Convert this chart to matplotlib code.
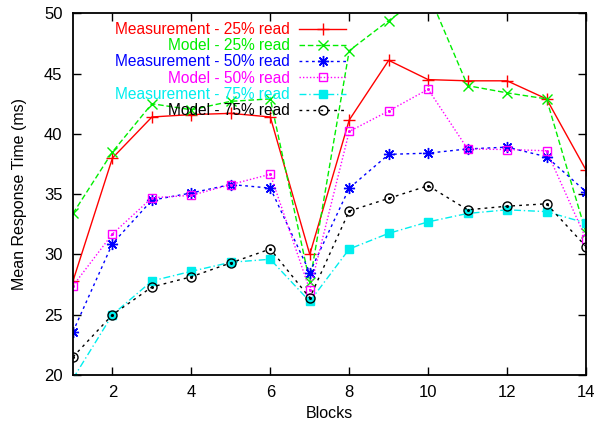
import matplotlib
matplotlib.use("Agg")
import matplotlib.pyplot as plt

plt.rcParams['font.family'] = ['Liberation Sans', 'DejaVu Sans']

blocks = list(range(1, 15))
meas_25 = [27.8, 38.0, 41.4, 41.6, 41.7, 41.4, 30.0, 41.15, 46.1, 44.5, 44.4, 44.4, 42.9, 37.0]
model_25 = [33.4, 38.5, 42.5, 42.0, 42.7, 42.9, 27.7, 46.9, 49.4, 51.7, 44.0, 43.4, 42.9, 31.8]
meas_50 = [23.6, 30.9, 34.5, 35.1, 35.8, 35.5, 28.5, 35.5, 38.3, 38.4, 38.75, 38.9, 38.1, 35.2]
model_50 = [27.4, 31.7, 34.7, 34.9, 35.8, 36.65, 27.05, 40.2, 41.9, 43.7, 38.75, 38.7, 38.6, 31.3]
meas_75 = [19.7, 25.0, 27.8, 28.6, 29.35, 29.6, 26.1, 30.45, 31.75, 32.7, 33.4, 33.7, 33.55, 32.6]
model_75 = [21.5, 25.0, 27.3, 28.15, 29.3, 30.45, 26.4, 33.6, 34.65, 35.7, 33.7, 34.0, 34.2, 30.65]

labels = ["Measurement - 25% read", "Model - 25% read", "Measurement - 50% read",
          "Model - 50% read", "Measurement - 75% read", "Model - 75% read"]
series = [meas_25, model_25, meas_50, model_50, meas_75, model_75]
colors = ["#ff0000", "#00ee00", "#0000ff", "#ff00ff", "#00eeee", "#000000"]
styles = ["-", (0, (4, 2)), (0, (2, 2.5)), (0, (1, 1.5)), (0, (5, 2, 1, 2)), (0, (2, 3))]
markers = ["+", "x", (8, 2, 0), "s", "s", "o"]
msizes = [8, 7, 8, 6, 6, 6.5]
mfcs = [None, None, None, "none", "#00eeee", "none"]
center_dot = [False, False, False, True, False, True]

fig = plt.figure(figsize=(5.97, 4.26), dpi=100)
ax = fig.add_axes([73/597, 1-375/426, 513/597, (375-13.3)/426])

for y, lab, c, ls, m, ms, mfc, dot in zip(series, labels, colors, styles, markers, msizes, mfcs, center_dot):
    kw = dict(color=c, linestyle=ls, linewidth=1.0, marker=m, markersize=ms,
              markeredgewidth=1.0, label=lab)
    if mfc is not None:
        kw['markerfacecolor'] = mfc
    ax.plot(blocks, y, **kw)
    if dot:
        ax.plot(blocks, y, linestyle='none', marker='o', markersize=1.2, color=c)

ax.set_xlim(1, 14)
ax.set_ylim(20, 50)
ax.set_xticks([2, 4, 6, 8, 10, 12, 14])
ax.set_yticks([20, 25, 30, 35, 40, 45, 50])
ax.tick_params(direction='in', length=6, top=True, right=True, labelsize=12, width=1, pad=7.5)
for s in ax.spines.values():
    s.set_linewidth(1.3)
ax.set_xlabel("Blocks", fontsize=11.5, labelpad=4)
ax.set_ylabel("Mean Response Time (ms)", fontsize=11.5, labelpad=12)

leg = ax.legend(loc='upper right', bbox_to_anchor=(0.532, 0.976), frameon=False,
                markerfirst=False, labelcolor='linecolor', fontsize=11.2,
                handlelength=3.0, handletextpad=0.6, borderpad=0, borderaxespad=0,
                labelspacing=0.08)

fig.savefig("out.png", dpi=100)
